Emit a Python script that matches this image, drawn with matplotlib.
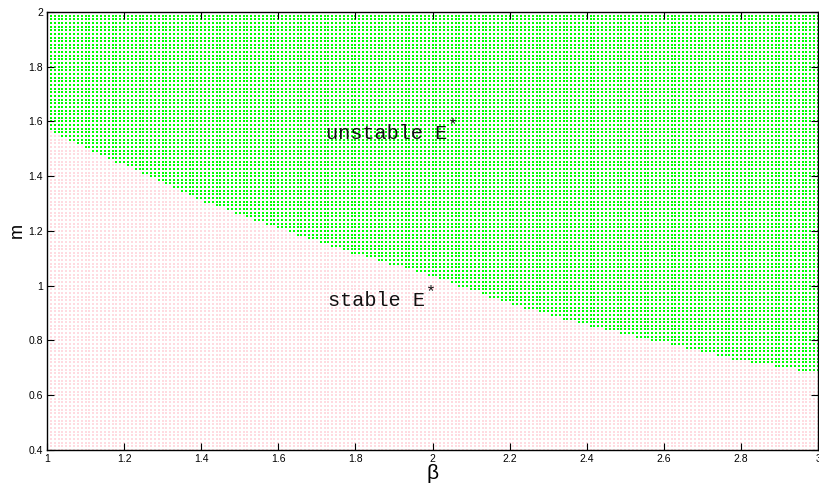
import numpy as np
import matplotlib
matplotlib.use("Agg")
import matplotlib.pyplot as plt

# boundary between stable / unstable (m at each beta tick)
beta_pts = [1.0, 1.2, 1.4, 1.6, 1.8, 2.0, 2.2, 2.4, 2.6, 2.8, 3.0]
m_boundary = [1.57, 1.44, 1.31, 1.21, 1.115, 1.035, 0.935, 0.855, 0.79, 0.725, 0.68]

# sampling grid of the parameter scan
beta_grid = np.linspace(1.0, 3.0, 201)
m_grid = np.linspace(0.4, 2.0, 121)

xticks = [1, 1.2, 1.4, 1.6, 1.8, 2, 2.2, 2.4, 2.6, 2.8, 3]
xtick_labels = ["1", "1.2", "1.4", "1.6", "1.8", "2", "2.2", "2.4", "2.6", "2.8", "3"]
yticks = [0.4, 0.6, 0.8, 1, 1.2, 1.4, 1.6, 1.8, 2]
ytick_labels = ["0.4", "0.6", "0.8", "1", "1.2", "1.4", "1.6", "1.8", "2"]

plt.rcParams["font.family"] = ["Liberation Sans", "DejaVu Sans"]

B, M = np.meshgrid(beta_grid, m_grid)
edge = np.interp(B, beta_pts, m_boundary)
unstable = M > edge

fig = plt.figure(figsize=(8.2, 4.88), dpi=100)
ax = fig.add_axes([0.0573, 0.078, 0.9403, 0.8975])

ax.scatter(B[~unstable], M[~unstable], s=0.9, marker="s", color="#ffdbe1",
           linewidths=0, zorder=1)
ax.scatter(B[unstable], M[unstable], s=4.2, marker="s", color="#00ff00",
           linewidths=0, zorder=1)

ax.set_xlim(1, 3)
ax.set_ylim(0.4, 2)
ax.set_xticks(xticks)
ax.set_xticklabels(xtick_labels)
ax.set_yticks(yticks)
ax.set_yticklabels(ytick_labels)
ax.tick_params(direction="in", length=5, width=0.8, labelsize=7.5,
               top=True, right=True, pad=3)
for sp in ax.spines.values():
    sp.set_linewidth(1.0)
    sp.set_zorder(3)

ax.set_xlabel("β", fontsize=15, labelpad=0)
ax.set_ylabel("m", fontsize=13, labelpad=2)

fs = 14.5
labels = [("unstable E", 1.725, 1.535), ("stable E", 1.73, 0.925)]
for txt, bx, my in labels:
    ax.text(bx, my, txt, family="Liberation Mono", fontsize=fs,
            color="#111111", va="baseline")
    ax.annotate("*", xy=(bx, my), xycoords="data",
                xytext=(0.6 * fs * len(txt) + 0.5, 7), textcoords="offset points",
                family="Liberation Mono", fontsize=12, color="#111111",
                va="baseline")

fig.savefig("out.png", dpi=100)
